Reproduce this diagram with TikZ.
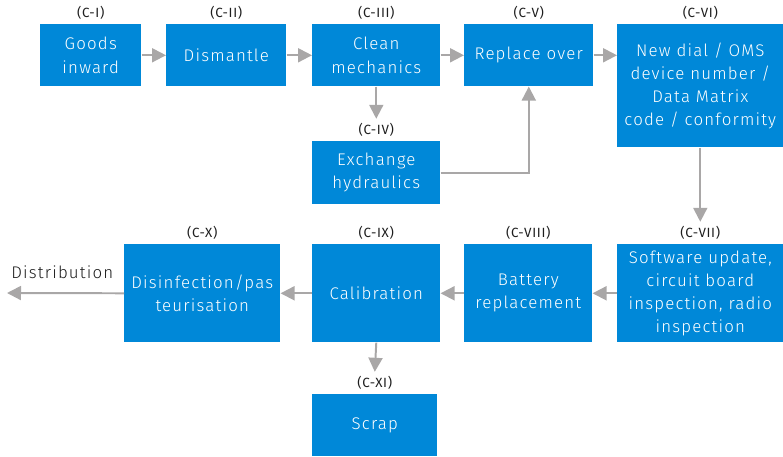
\documentclass[tikz,border=0pt]{standalone}
\usepackage{fontspec}
\setmainfont{Fira Sans}[UprightFont={* Light}, LetterSpace=7]
\newfontfamily\tagfont{Fira Sans}[LetterSpace=5]
\usetikzlibrary{arrows.meta}
\definecolor{bleu}{HTML}{0088D8}
\definecolor{gris}{HTML}{A9A7A7}
\definecolor{encre}{HTML}{1E1E1E}
\tikzstyle{stagebox} = [rectangle, fill=bleu, draw=none, anchor=north west, minimum height=1.55cm, minimum width=3.2cm, inner sep=0pt, align=center, text=white, font=\fontsize{12}{16.5}\selectfont]
\tikzstyle{stagetag} = [anchor=south, inner sep=3pt, text=encre, font=\tagfont\fontsize{9.5}{11}\selectfont]
\tikzstyle{flow} = [draw=gris, line width=1.4pt, -{Triangle[length=0.35cm, width=0.35cm]}]

\begin{document}
\begin{tikzpicture}
        \useasboundingbox (0,0) rectangle (19.575,-11.4);

        \node (E1) [stagebox, minimum width=2.525cm] at (1,-0.6) {Goods\\inward};
        \node (E2) [stagebox, minimum width=3cm] at (4.15,-0.6) {Dismantle};
        \node (E3) [stagebox] at (7.8,-0.6) {Clean\\mechanics};
        \node (E4) [stagebox, minimum height=1.575cm] at (7.8,-3.525) {Exchange\\hydraulics};
        \node (E5) [stagebox, minimum width=3.225cm] at (11.6,-0.6) {Replace over};
        \node (E6) [stagebox, minimum width=4.15cm, minimum height=3.075cm] at (15.425,-0.6) {New dial / OMS\\device number /\\Data Matrix\\code / conformity};

        \node (E7) [stagebox, minimum width=4.15cm, minimum height=2.45cm] at (15.425,-6.1) {Software update,\\circuit board\\inspection, radio\\inspection};
        \node (E8) [stagebox, minimum height=2.45cm] at (11.6,-6.1) {Battery\\replacement};
        \node (E9) [stagebox, minimum height=2.45cm] at (7.8,-6.1) {Calibration};
        \node (E10) [stagebox, minimum width=3.9cm, minimum height=2.45cm] at (3.1,-6.1) {Disinfection/pas\\teurisation};
        \node (E11) [stagebox, minimum width=3.125cm] at (7.8,-9.85) {Scrap};

        \node (L1) [stagetag] at (E1.north) {(C-I)};
        \node (L2) [stagetag] at (E2.north) {(C-II)};
        \node (L3) [stagetag] at (E3.north) {(C-III)};
        \node (L4) [stagetag] at (E4.north) {(C-IV)};
        \node (L5) [stagetag] at (E5.north) {(C-V)};
        \node (L6) [stagetag] at (E6.north) {(C-VI)};
        \node (L7) [stagetag] at (E7.north) {(C-VII)};
        \node (L8) [stagetag] at (E8.north) {(C-VIII)};
        \node (L9) [stagetag] at (E9.north) {(C-IX)};
        \node (L10) [stagetag] at (E10.north) {(C-X)};
        \node (L11) [stagetag] at (E11.north) {(C-XI)};

        \node (D) [anchor=base west, inner sep=0pt, text=encre, font=\fontsize{12}{14}\selectfont] at (0.275,-6.95) {Distribution};
        \coordinate (out) at (0.175,-7.325);

        \draw[flow] (E1.east) -- (E2.west);
        \draw[flow] (E2.east) -- (E3.west);
        \draw[flow] (E3.east) -- (E5.west);
        \draw[flow] (E5.east) -- (E5.east -| E6.west);
        \draw[flow] (E3.south) -- (L4.north);
        \draw[flow] (E4.east) -| (E5.south);
        \draw[flow] (E6.south) -- (L7.north);
        \draw[flow] (E7.west) -- (E8.east);
        \draw[flow] (E8.west) -- (E9.east);
        \draw[flow] (E9.west) -- (E10.east);
        \draw[flow] (E10.west) -- (out);
        \draw[flow] (E9.south) -- (L11.north);

    \end{tikzpicture}
\end{document}
